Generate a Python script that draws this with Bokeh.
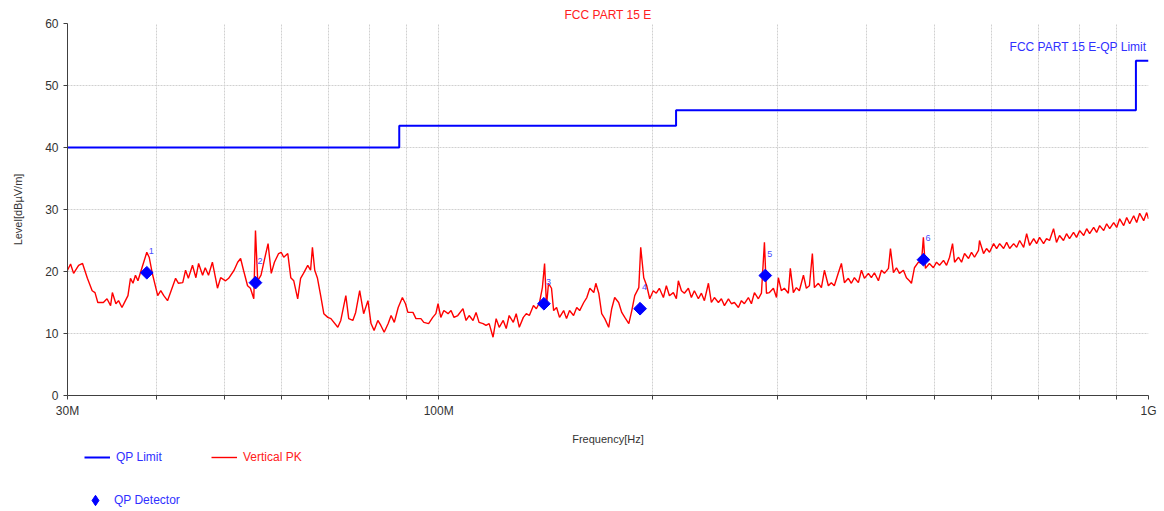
from bokeh.plotting import figure
from bokeh.layouts import column
from bokeh.models import (Range1d, FixedTicker, Label, Legend, LegendItem)
from bokeh.core.properties import value
from bokeh.embed import file_html
from bokeh.resources import INLINE

# ---------------- data ----------------
# limit line (step, MHz / dBuV/m)
limit_freq_mhz = [30, 88, 216, 960, 1000]
limit_level = [40, 43.5, 46, 54, 54]

# quasi-peak detector points
qp_freq_mhz = [38.8, 55.2, 140.7, 192.2, 288.5, 481.9]
qp_level = [19.8, 18.2, 14.8, 14.0, 19.35, 21.9]
qp_labels = ["1", "2", "3", "4", "5", "6"]

# vertical peak trace
pk_freq_mhz = [
    30.0, 30.3, 30.6, 31.1, 31.5, 32.0, 32.5, 32.8, 33.1, 33.7, 34.1, 34.5, 34.7, 35.1, 35.4, 35.8,
    36.2, 36.5, 36.8, 37.1, 37.4, 37.7, 38.2, 38.8, 39.1, 39.5, 40.2, 40.6, 41.0, 41.5, 41.9, 42.6,
    43.0, 43.6, 44.0, 44.4, 45.0, 45.5, 45.9, 46.5, 46.9, 47.4, 48.0, 48.5, 48.8, 49.3, 50.1, 50.6,
    51.5, 52.1, 52.6, 53.1, 53.8, 54.3, 54.9, 55.2, 55.6, 56.2, 56.8, 57.5, 58.1, 58.7, 59.5, 60.0,
    60.5, 61.3, 61.9, 62.5, 63.3, 63.9, 64.5, 65.4, 66.0, 66.4, 66.9, 67.5, 68.2, 68.9, 69.8,
    70.5, 72.1, 72.8, 74.0, 74.7, 75.7, 76.4, 77.4, 78.4, 79.5, 80.3, 81.1, 82.1, 82.9, 83.8, 84.9,
    85.7, 86.6, 87.7, 88.9, 89.8, 90.5, 92.0, 92.9, 94.4, 95.3, 96.8, 98.1, 99.1, 99.8, 100.7,
    101.7, 103.1, 104.1, 105.1, 106.4, 108.2, 109.3, 110.4, 111.8, 112.9, 114.0, 115.5, 116.6,
    117.8, 119.3, 120.5, 121.7, 123.3, 124.5, 125.7, 127.4, 128.6, 129.9, 131.6, 132.9, 134.2,
    136.0, 137.3, 138.7, 140.0, 141.0, 141.9, 142.8, 144.2, 145.2, 146.6, 148.0, 150.0, 151.4,
    152.9, 154.9, 156.5, 158.0, 160.1, 161.7, 163.3, 165.4, 166.5, 168.1,
    169.7, 171.4, 173.6, 175.3, 177.0, 179.3, 181.1, 182.9, 185.3, 187.1, 188.9, 191.4, 192.6,
    194.5, 196.4, 198.3, 200.6, 202.6, 204.6, 207.3, 209.3, 211.4, 214.1, 216.2, 217.6, 219.8,
    221.9, 224.8, 227.0, 229.2, 232.2, 234.5, 236.8, 239.9, 242.2, 244.6, 247.8, 250.2, 252.7,
    256.0, 258.5, 261.0, 264.4, 267.0, 269.6, 273.1, 275.8, 278.5, 282.1, 284.9, 287.7, 289.6,
    292.4, 296.2, 299.2, 301.0, 303.9, 306.9, 310.9, 312.9, 316.0, 319.1, 322.2, 326.5, 329.6,
    332.9, 336.1, 338.3, 342.7, 346.1, 349.5, 354.0, 357.4, 360.9, 365.7, 369.3, 372.9, 377.7,
    381.4, 385.2, 390.2, 394.1, 397.9, 403.1,
    407.0, 411.0, 416.4, 420.5, 424.6, 430.2, 433.0, 437.2, 441.5, 445.8, 451.6, 456.0, 460.5,
    463.5, 468.0, 474.1, 478.7, 481.8, 485.0, 491.3, 497.7, 502.8, 507.7, 514.3, 519.4, 524.5,
    529.6, 533.1, 540.0, 545.3, 550.6, 557.8, 563.2, 568.7, 576.1, 578.0, 585.6, 591.3, 597.1,
    605.1, 611.0, 617.0, 625.0, 631.2, 637.4, 645.7, 652.1, 658.4, 667.0, 673.5, 680.1, 689.0,
    695.7, 702.3, 711.5, 718.4, 725.4, 734.9, 742.0, 749.3, 759.0, 766.5, 774.0, 784.1, 791.8,
    800.0, 810.4, 818.3, 826.2, 837.0, 845.2, 853.5, 864.7, 873.1, 881.7, 893.2, 902.0, 910.8,
    922.7, 931.7, 940.8, 953.1, 962.4, 971.8, 984.5, 994.1, 1000.0,
]
pk_level = [
    20.2, 21.2, 19.7, 21.0, 21.3, 18.9, 16.9, 16.6, 15.0, 15.0, 15.6, 14.5, 16.6, 14.8, 15.3, 14.2,
    15.3, 16.1, 18.9, 18.1, 19.4, 18.5, 20.6, 23.1, 22.3, 19.7, 16.1, 16.9, 16.1, 15.3, 16.6, 18.9,
    18.1, 18.2, 20.2, 18.9, 21.0, 19.0, 21.3, 19.4, 20.6, 19.4, 21.5, 18.9, 17.3, 19.0, 18.5, 18.9,
    20.2, 21.5, 22.1, 20.2, 17.7, 17.3, 15.6, 26.6, 18.5, 19.4, 21.8, 24.5, 19.7, 21.5, 22.9, 23.1,
    22.3, 22.9, 19.0, 18.5, 15.6, 18.9, 19.7, 21.0, 20.2, 23.9, 20.2, 18.9, 16.1, 13.2, 12.6,
    12.4, 11.0, 12.1, 16.1, 12.4, 12.1, 13.4, 16.9, 13.2, 15.3, 11.6, 10.5, 12.1, 11.3, 10.2, 11.6,
    12.9, 11.8, 14.2, 15.8, 14.8, 13.4, 13.4, 12.4, 12.4, 11.8, 11.6, 12.6, 13.2, 14.8, 12.6,
    13.7, 13.2, 13.7, 12.6, 12.9, 14.0, 12.1, 12.9, 12.1, 13.4, 11.8, 11.6, 11.3,
    11.6, 9.4, 12.4, 11.0, 12.1, 10.8, 12.9, 11.8, 13.2, 11.0, 12.6, 13.2, 12.9,
    14.5, 14.0, 15.0, 17.4, 21.3, 14.5, 18.1, 17.3, 13.7, 14.2, 12.6, 13.7, 12.4,
    13.7, 12.9, 14.2, 13.7, 15.0, 15.8, 17.3, 16.6, 18.1, 16.5,
    13.2, 12.4, 11.0, 14.0, 15.8, 15.0, 13.4, 12.6, 11.6, 13.7, 16.1, 17.4, 23.9,
    19.0, 17.7, 15.6, 16.9, 16.5, 17.3, 15.8, 17.7, 16.1, 16.6, 15.6, 18.5, 16.9,
    16.5, 17.3, 15.8, 16.9, 15.6, 16.5, 15.3, 18.1, 15.0, 15.8, 15.0, 15.6, 14.5,
    15.6, 14.8, 15.0, 14.2, 15.3, 14.8, 15.8, 14.8, 16.6, 15.6, 16.5, 24.7, 16.5,
    16.6, 17.3, 15.8, 19.0, 16.9, 17.3, 16.5, 20.5, 16.6, 17.4, 16.9, 19.4, 17.3,
    17.7, 22.9, 17.4, 18.1, 17.4, 20.2, 17.7, 18.2, 17.7, 19.8, 21.3, 18.2, 18.9,
    18.1, 19.0, 18.2, 20.2, 18.9, 19.7,
    19.0, 19.8, 18.5, 20.2, 19.7, 20.5, 23.7, 19.8, 20.6, 19.7, 20.2, 19.0, 18.5,
    18.1, 20.6, 21.5, 21.3, 25.5, 20.5, 21.3, 20.6, 21.5, 21.0, 21.8, 21.0, 22.3,
    24.5, 21.5, 22.3, 21.5, 22.9, 22.1, 23.1, 22.3, 23.4, 25.0, 22.9, 23.7, 23.1,
    24.5, 23.7, 24.5, 23.7, 24.7, 23.7, 24.5, 23.9, 25.0, 23.9, 26.1, 24.2, 25.3,
    24.5, 25.5, 24.5, 25.3, 25.0, 26.9, 24.7, 25.8, 25.0, 26.1, 25.3, 26.3, 25.5,
    26.6, 25.8, 26.9, 26.1, 27.1, 26.3, 27.4, 26.6, 27.7, 26.9, 27.9, 27.1, 28.5,
    27.4, 28.7, 27.7, 29.0, 27.9, 29.4, 28.2, 29.5, 28.5,
]

x_tick_mhz = [30, 40, 50, 60, 70, 80, 90, 100, 200, 300, 400, 500, 600, 700, 800, 900, 1000]
x_tick_labels = {30: "30M", 100: "100M", 1000: "1G"}
y_ticks = [0, 10, 20, 30, 40, 50, 60]

# ---------------- figure ----------------
FONT = "Liberation Sans"
BLUE = "#0000ff"
RED = "#ff0000"
TXT_BLUE = "#3030ff"
TXT_RED = "#ff2020"
W = 1160
DIAMOND_ANGLE = 0.785398  # square turned 45 degrees = even diamond

limit_x = [f * 1e6 for f in limit_freq_mhz]
pk_x = [f * 1e6 for f in pk_freq_mhz]
qp_x = [f * 1e6 for f in qp_freq_mhz]

p = figure(width=W, height=450, x_axis_type="log",
           x_range=Range1d(30e6, 1e9), y_range=Range1d(0, 60),
           output_backend="svg", toolbar_location=None,
           min_border_left=67, min_border_right=W - 1148, min_border_top=23, min_border_bottom=55)
p.outline_line_color = None
p.background_fill_color = "white"

p.title.text = "FCC PART 15 E"
p.title.align = "center"
p.title.text_color = TXT_RED
p.title.text_font = FONT
p.title.text_font_size = "12px"
p.title.text_font_style = "normal"
p.title.standoff = 3

p.xaxis.ticker = FixedTicker(ticks=[v * 1e6 for v in x_tick_mhz], minor_ticks=[])
p.xaxis.major_label_overrides = {v * 1e6: x_tick_labels.get(v, "") for v in x_tick_mhz}
p.yaxis.ticker = FixedTicker(ticks=y_ticks, minor_ticks=[])

for ax in (p.xaxis[0], p.yaxis[0]):
    ax.axis_line_color = "#404040"
    ax.major_tick_line_color = "#404040"
    ax.major_tick_in = 0
    ax.major_tick_out = 4
    ax.minor_tick_line_color = None
    ax.major_label_text_font = FONT
    ax.major_label_text_font_size = "12px"
    ax.major_label_text_color = "#333333"
    ax.axis_label_text_font = FONT
    ax.axis_label_text_font_size = "11px"
    ax.axis_label_text_font_style = "normal"
    ax.axis_label_text_color = "#333333"

p.xaxis.axis_label = "Frequency[Hz]"
p.xaxis.major_label_standoff = 4
p.xaxis.axis_label_standoff = 12
p.yaxis.axis_label = "Level[dBµV/m]"
p.yaxis.major_label_standoff = 5
p.yaxis.axis_label_standoff = 18

p.xgrid.grid_line_color = "#d0d0d0"
p.xgrid.grid_line_dash = "2 1"
p.ygrid.grid_line_color = "#d0d0d0"
p.ygrid.grid_line_dash = "2 1"

# limit
p.step(limit_x, limit_level, mode="after", line_color=BLUE, line_width=2)
# peak trace
p.line(pk_x, pk_level, line_color=RED, line_width=1.4)
# QP detector
p.scatter(qp_x, qp_level, marker="square", angle=DIAMOND_ANGLE, size=9,
          fill_color=BLUE, line_color=BLUE)
p.text(qp_x, qp_level, text=qp_labels, x_offset=2, y_offset=-22,
       text_font=value(FONT), text_font_size="9px", text_color="#4a4aff",
       text_align="left", text_baseline="middle")

p.add_layout(Label(x=1e9, y=60, x_offset=-2, y_offset=-23, text="FCC PART 15 E-QP Limit",
                   text_align="right", text_baseline="middle", text_color=TXT_BLUE,
                   text_font=FONT, text_font_size="12px"))

# ---------------- legend strip ----------------
# same series drawn again (out of this strip's view) so that its legend shows their glyphs
LH = 58
lg = figure(width=W, height=LH, x_range=Range1d(0, 1), y_range=Range1d(0, 1),
            output_backend="svg", toolbar_location=None,
            min_border_left=0, min_border_right=0, min_border_top=0, min_border_bottom=0)
lg.axis.visible = False
lg.grid.visible = False
lg.outline_line_color = None

r_lim = lg.step(limit_x, limit_level, mode="after", line_color=BLUE, line_width=2)
r_pk = lg.line(pk_x, pk_level, line_color=RED, line_width=1.4)
r_qp = lg.scatter(qp_x, qp_level, marker="diamond", size=12, fill_color=BLUE, line_color=BLUE)

FRAME_LEFT = 67


def mk_legend(label, rend, color, x, y, gh=14):
    leg = Legend(items=[LegendItem(label=label, renderers=[rend])], location=(x - FRAME_LEFT, y),
                 orientation="horizontal", padding=0, margin=0, spacing=0,
                 border_line_color=None, background_fill_alpha=0,
                 glyph_width=26, glyph_height=gh, label_standoff=6,
                 label_text_font=FONT, label_text_font_size="12px",
                 label_text_color=color, label_height=14)
    lg.add_layout(leg)


mk_legend("QP Limit", r_lim, TXT_BLUE, 84, LH - 14)
mk_legend("Vertical PK", r_pk, TXT_RED, 211, LH - 14)
mk_legend("QP Detector", r_qp, TXT_BLUE, 82, -5, gh=26)

layout = column(p, lg, spacing=0)
open("out.html", "w").write(file_html(layout, INLINE))
